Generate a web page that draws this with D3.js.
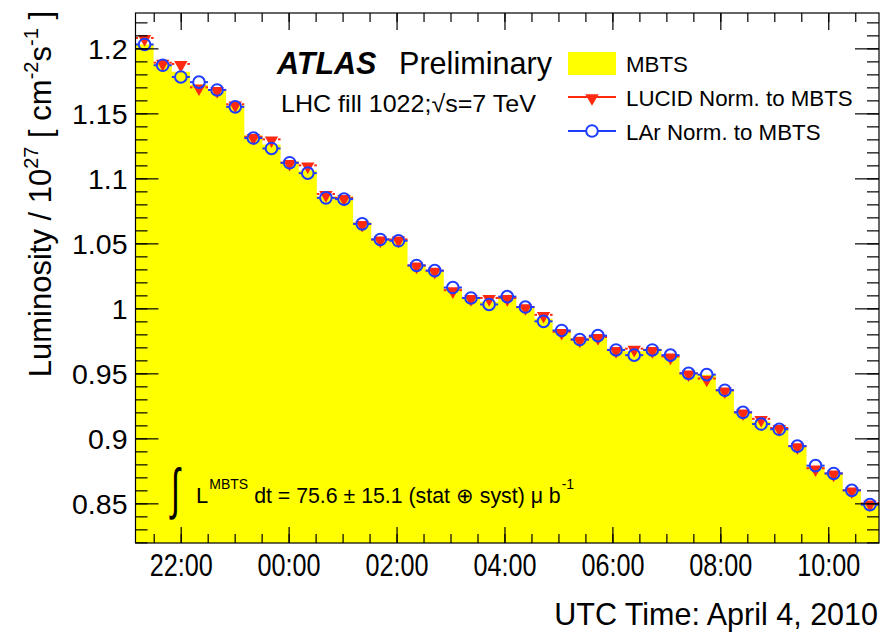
<!DOCTYPE html>
<html>
<head>
<meta charset="utf-8">
<script src="https://cdn.jsdelivr.net/npm/d3@7"></script>
<style>
  body { margin: 0; background: #fff; }
  text { font-family: "Liberation Sans", Arial, Helvetica, sans-serif; fill: #000; }
</style>
</head>
<body>
<svg id="chart" width="881" height="632"></svg>
<script>
// luminosity per bin (units of 1e27 cm^-2 s^-1)
const mbts = [1.203, 1.188, 1.182, 1.172, 1.168, 1.156, 1.133, 1.126, 1.113, 1.106,
  1.086, 1.086, 1.066, 1.053, 1.053, 1.033, 1.029, 1.015, 1.008, 1.005,
  1.009, 1.001, 0.992, 0.983, 0.977, 0.979, 0.969, 0.967, 0.969, 0.964,
  0.951, 0.949, 0.938, 0.920, 0.913, 0.908, 0.894, 0.878, 0.873, 0.861, 0.850];
const lucid = [1.208, 1.189, 1.188, 1.170, 1.168, 1.157, 1.132, 1.130, 1.112, 1.110,
  1.088, 1.085, 1.065, 1.053, 1.053, 1.033, 1.029, 1.014, 1.008, 1.008,
  1.008, 1.001, 0.995, 0.982, 0.976, 0.978, 0.968, 0.969, 0.968, 0.963,
  0.950, 0.946, 0.937, 0.920, 0.915, 0.908, 0.894, 0.877, 0.873, 0.860, 0.850];
const lar = [1.203, 1.187, 1.178, 1.174, 1.168, 1.155, 1.131, 1.123, 1.112, 1.104,
  1.085, 1.084, 1.065, 1.053, 1.052, 1.033, 1.029, 1.016, 1.008, 1.003,
  1.009, 1.001, 0.990, 0.983, 0.976, 0.979, 0.968, 0.964, 0.968, 0.964,
  0.950, 0.949, 0.937, 0.920, 0.911, 0.907, 0.894, 0.879, 0.873, 0.860, 0.849];

const timeRange = ["2010-04-03T21:09:45Z", "2010-04-04T10:56:25Z"];
const yRange = [0.8195, 1.2272];
const yTickValues = [0.85, 0.9, 0.95, 1, 1.05, 1.1, 1.15, 1.2];
const legendLabels = ["MBTS", "LUCID Norm. to MBTS", "LAr Norm. to MBTS"];

const W = 881, H = 632;
const margin = { top: 13, right: 2, bottom: 89, left: 135.5 };
const x0 = margin.left, x1 = W - margin.right;
const yTop = margin.top, yBot = H - margin.bottom;

const red = "#ff2a10", blue = "#1f3cff", yellow = "#ffff00";

const svg = d3.select("#chart");

const x = d3.scaleUtc()
  .domain(timeRange.map(d => new Date(d)))
  .range([x0, x1]);

const bin = d3.scaleBand()
  .domain(d3.range(mbts.length))
  .range([x0, x1])
  .padding(0);

const y = d3.scaleLinear().domain(yRange).range([yBot, yTop]);

// MBTS histogram as a filled step area
const stepData = mbts.map((v, i) => ({ x: bin(i), v: v }));
stepData.push({ x: bin(mbts.length - 1) + bin.bandwidth(), v: mbts[mbts.length - 1] });

svg.append("path")
  .datum(stepData)
  .attr("fill", yellow)
  .attr("d", d3.area()
    .curve(d3.curveStepAfter)
    .x(d => d.x)
    .y0(yBot)
    .y1(d => y(d.v)));

// points with x error bars
const drawSeries = (values, color, gap, markerFn) => {
  const g = svg.append("g");
  values.forEach((v, i) => {
    const cx = bin(i) + bin.bandwidth() / 2;
    const cy = y(v);
    g.append("line")
      .attr("x1", bin(i)).attr("x2", cx - gap)
      .attr("y1", cy).attr("y2", cy)
      .attr("stroke", color).attr("stroke-width", 2);
    g.append("line")
      .attr("x1", cx + gap).attr("x2", bin(i) + bin.bandwidth())
      .attr("y1", cy).attr("y2", cy)
      .attr("stroke", color).attr("stroke-width", 2);
    markerFn(g, cx, cy);
  });
};

const triangle = (g, cx, cy) => {
  g.append("path")
    .attr("d", d3.symbol(d3.symbolTriangle, 78)())
    .attr("transform", `translate(${cx},${cy + 1}) rotate(180)`)
    .attr("fill", red);
};
const circle = (g, cx, cy) => {
  g.append("circle")
    .attr("cx", cx).attr("cy", cy).attr("r", 5.8)
    .attr("fill", "none")
    .attr("stroke", blue)
    .attr("stroke-width", 2);
};

drawSeries(lucid, red, 6.5, triangle);
drawSeries(lar, blue, 6, circle);

// frame
svg.append("rect")
  .attr("x", x0).attr("y", yTop)
  .attr("width", x1 - x0).attr("height", yBot - yTop)
  .attr("fill", "none").attr("stroke", "#000").attr("stroke-width", 1.2);

// axes: ticks drawn inward on all four sides
const styleAxis = g => {
  g.select(".domain").remove();
  g.selectAll(".tick line").attr("stroke", "#000").attr("stroke-width", 1.2);
};

const xMinor = x.ticks(d3.utcMinute.every(30));
const xMajor = x.ticks(d3.utcHour.every(2));

svg.append("g").attr("transform", `translate(0,${yBot})`)
  .call(d3.axisBottom(x).tickValues(xMinor).tickSize(-9).tickFormat(""))
  .call(styleAxis);
svg.append("g").attr("transform", `translate(0,${yTop})`)
  .call(d3.axisTop(x).tickValues(xMinor).tickSize(-9).tickFormat(""))
  .call(styleAxis);
svg.append("g").attr("transform", `translate(0,${yTop})`)
  .call(d3.axisTop(x).tickValues(xMajor).tickSize(-17).tickFormat(""))
  .call(styleAxis);

const xAxis = svg.append("g").attr("transform", `translate(0,${yBot})`)
  .call(d3.axisBottom(x).tickValues(xMajor).tickSize(-16).tickPadding(0)
    .tickFormat(d3.utcFormat("%H:%M")))
  .call(styleAxis);
xAxis.selectAll(".tick text")
  .attr("y", 33).attr("dy", null)
  .attr("font-size", 31)
  .attr("textLength", 63)
  .attr("lengthAdjust", "spacingAndGlyphs");

const yMinor = y.ticks(40);
svg.append("g").attr("transform", `translate(${x0},0)`)
  .call(d3.axisLeft(y).tickValues(yMinor).tickSize(-12).tickFormat(""))
  .call(styleAxis);
svg.append("g").attr("transform", `translate(${x1},0)`)
  .call(d3.axisRight(y).tickValues(yMinor).tickSize(-12).tickFormat(""))
  .call(styleAxis);
svg.append("g").attr("transform", `translate(${x1},0)`)
  .call(d3.axisRight(y).tickValues(yTickValues).tickSize(-24).tickFormat(""))
  .call(styleAxis);
const yAxis = svg.append("g").attr("transform", `translate(${x0},0)`)
  .call(d3.axisLeft(y).tickValues(yTickValues).tickSize(-23).tickPadding(0)
    .tickFormat(d => String(d)))
  .call(styleAxis);
yAxis.selectAll(".tick text")
  .attr("x", -8).attr("dy", "0.36em")
  .attr("font-size", 28.5);

// axis titles
svg.append("text")
  .attr("x", x1 - 1).attr("y", 625)
  .attr("text-anchor", "end")
  .attr("font-size", 30.5)
  .text("UTC Time: April 4, 2010");

const yTitle = svg.append("text")
  .attr("transform", "translate(51,11) rotate(-90)")
  .attr("text-anchor", "end")
  .attr("font-size", 31);
yTitle.append("tspan").text("Luminosity / 10");
yTitle.append("tspan").attr("font-size", 20).attr("dy", -13).text("27");
yTitle.append("tspan").attr("dy", 13).text(" [ cm");
yTitle.append("tspan").attr("font-size", 20).attr("dy", -13).text("-2");
yTitle.append("tspan").attr("dy", 13).text("s");
yTitle.append("tspan").attr("font-size", 20).attr("dy", -13).text("-1");
yTitle.append("tspan").attr("dy", 13).text(" ]");

// ATLAS label
svg.append("text").attr("x", 277).attr("y", 74).attr("font-size", 30.5)
  .attr("font-weight", "bold").attr("font-style", "italic")
  .text("ATLAS");
svg.append("text").attr("x", 399).attr("y", 74).attr("font-size", 30.5)
  .attr("textLength", 153).attr("lengthAdjust", "spacingAndGlyphs")
  .text("Preliminary");

svg.append("text").attr("x", 281).attr("y", 112).attr("font-size", 24)
  .attr("textLength", 255).attr("lengthAdjust", "spacingAndGlyphs")
  .text("LHC fill 1022;\u221As=7 TeV");

// legend
const legX = 568, legW = 48;
const legY = [63.5, 97, 131];
svg.append("rect")
  .attr("x", legX).attr("y", legY[0] - 11.5)
  .attr("width", legW).attr("height", 23)
  .attr("fill", yellow);
svg.append("line")
  .attr("x1", legX).attr("x2", legX + legW)
  .attr("y1", legY[1]).attr("y2", legY[1])
  .attr("stroke", red).attr("stroke-width", 2);
triangle(svg, legX + legW / 2, legY[1]);
svg.append("line")
  .attr("x1", legX).attr("x2", legX + legW / 2 - 6)
  .attr("y1", legY[2]).attr("y2", legY[2])
  .attr("stroke", blue).attr("stroke-width", 2);
svg.append("line")
  .attr("x1", legX + legW / 2 + 6).attr("x2", legX + legW)
  .attr("y1", legY[2]).attr("y2", legY[2])
  .attr("stroke", blue).attr("stroke-width", 2);
circle(svg, legX + legW / 2, legY[2]);
legendLabels.forEach((t, i) => {
  svg.append("text")
    .attr("x", 626).attr("y", legY[i] + 8.5)
    .attr("font-size", 22.3)
    .text(t);
});

// integrated luminosity
svg.append("text")
  .attr("transform", "translate(171,508) scale(0.9,1.55)")
  .attr("font-family", "DejaVu Sans")
  .attr("font-weight", 200)
  .attr("font-size", 36)
  .text("\u222B");
const integ = svg.append("text").attr("x", 196).attr("y", 503).attr("font-size", 21.3);
integ.append("tspan").attr("font-size", 22).text("L");
integ.append("tspan").attr("font-size", 14).attr("dy", -14).attr("dx", 1).text("MBTS");
integ.append("tspan").attr("dy", 14).attr("dx", 6)
  .text("dt = 75.6 \u00B1 15.1 (stat \u2295 syst) \u03BC b");
integ.append("tspan").attr("font-size", 14).attr("dy", -14).attr("dx", 1).text("-1");
</script>
</body>
</html>
